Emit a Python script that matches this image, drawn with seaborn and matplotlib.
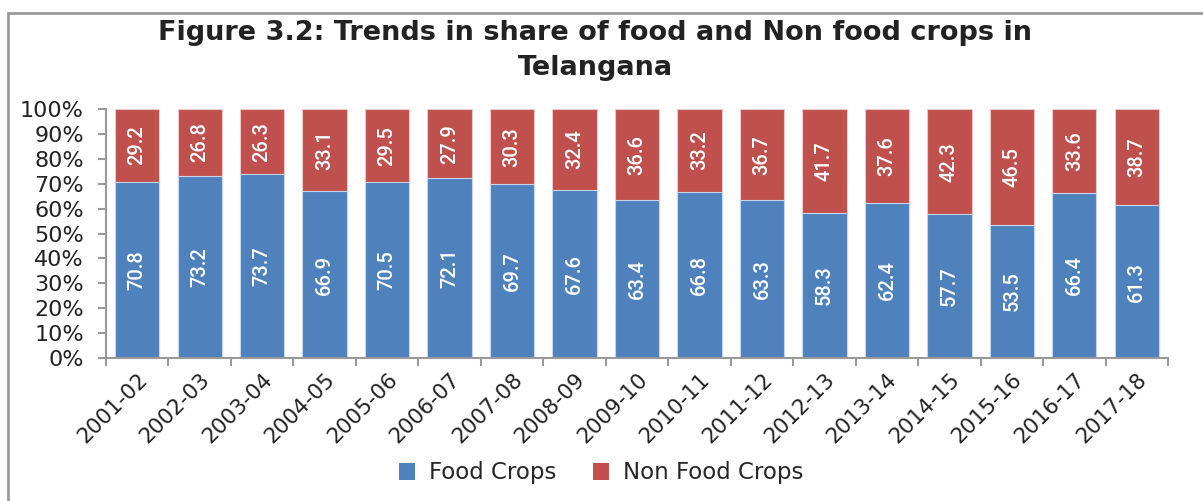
import matplotlib
matplotlib.use("Agg")
import matplotlib.pyplot as plt
import seaborn as sns
import pandas as pd
import numpy as np
from matplotlib.patches import Rectangle, Patch

years = ["2001-02", "2002-03", "2003-04", "2004-05", "2005-06", "2006-07", "2007-08",
         "2008-09", "2009-10", "2010-11", "2011-12", "2012-13", "2013-14", "2014-15",
         "2015-16", "2016-17", "2017-18"]
food = [70.8, 73.2, 73.7, 66.9, 70.5, 72.1, 69.7, 67.6, 63.4, 66.8, 63.3, 58.3, 62.4, 57.7, 53.5, 66.4, 61.3]
nonfood = [29.2, 26.8, 26.3, 33.1, 29.5, 27.9, 30.3, 32.4, 36.6, 33.2, 36.7, 41.7, 37.6, 42.3, 46.5, 33.6, 38.7]
series_names = ["Food Crops", "Non Food Crops"]

BLUE = "#4F81BD"
RED = "#C0504D"

sns.set_theme(style="white")
plt.rcParams['font.family'] = ['DejaVu Sans']

df = pd.DataFrame({"year": years, "food": food, "nonfood": nonfood})
df["total"] = df["food"] + df["nonfood"]

fig = plt.figure(figsize=(12.03, 5.01), dpi=100)
ax = fig.add_axes([106/1203, 1-358/501, (1168-106)/1203, (358-109)/501])

sns.barplot(data=df, x="year", y="total", color=RED, width=0.71, ax=ax,
            edgecolor="#E8C8C8", linewidth=0.8, saturation=1)
sns.barplot(data=df, x="year", y="food", color=BLUE, width=0.71, ax=ax,
            edgecolor="#C8D6EA", linewidth=0.8, saturation=1)

for i, (f, n) in enumerate(zip(food, nonfood)):
    ax.text(i, f/2, f"{f:.1f}", rotation=90, ha="center", va="center",
            color="white", fontsize=14.5, family="Roboto", fontweight="medium")
    ax.text(i, f + n/2, f"{n:.1f}", rotation=90, ha="center", va="center",
            color="white", fontsize=14.5, family="Roboto", fontweight="medium")

ax.set_xlim(-0.5, len(years)-0.5)
ax.set_ylim(0, 100)
ax.set_yticks(np.arange(0, 101, 10))
ax.set_yticklabels([f"{v}%" for v in range(0, 101, 10)], fontsize=16, color="#222222")
ax.set_xticks(range(len(years)))
ax.set_xticklabels(years, rotation=45, ha="right", rotation_mode="anchor",
                   fontsize=15.5, color="#222222")
ax.set_xticks(np.arange(-0.5, len(years), 1), minor=True)
ax.tick_params(axis="x", which="major", length=0, pad=8)
ax.tick_params(axis="x", which="minor", length=6, width=1.5, color="#999999", direction="out", bottom=True)
ax.tick_params(axis="y", length=6, width=1.5, color="#999999", direction="out", left=True, pad=10)
ax.set_xlabel("")
ax.set_ylabel("")
for s in ["top", "right"]:
    ax.spines[s].set_visible(False)
for s in ["left", "bottom"]:
    ax.spines[s].set_color("#999999")
    ax.spines[s].set_linewidth(1.5)

fig.text(595/1203, 1-33/501, "Figure 3.2: Trends in share of food and Non food crops in",
         ha="center", va="center", fontsize=19.5, fontweight="bold", color="#222222")
fig.text(595/1203, 1-68/501, "Telangana",
         ha="center", va="center", fontsize=19.5, fontweight="bold", color="#222222")

handles = [Patch(facecolor=BLUE, edgecolor="none"), Patch(facecolor=RED, edgecolor="none")]
fig.legend(handles, series_names, loc="center", bbox_to_anchor=(601/1203, 1-473/501),
           ncol=2, frameon=False, fontsize=16.5, handlelength=0.7, handleheight=0.7,
           columnspacing=1.6, handletextpad=0.6)

fig.patches.append(Rectangle((8/1203, -0.2), 1.2, 1.2 - 13/501, transform=fig.transFigure,
                             fill=False, edgecolor="#999999", linewidth=2, figure=fig))

fig.savefig("out.png", dpi=100)
